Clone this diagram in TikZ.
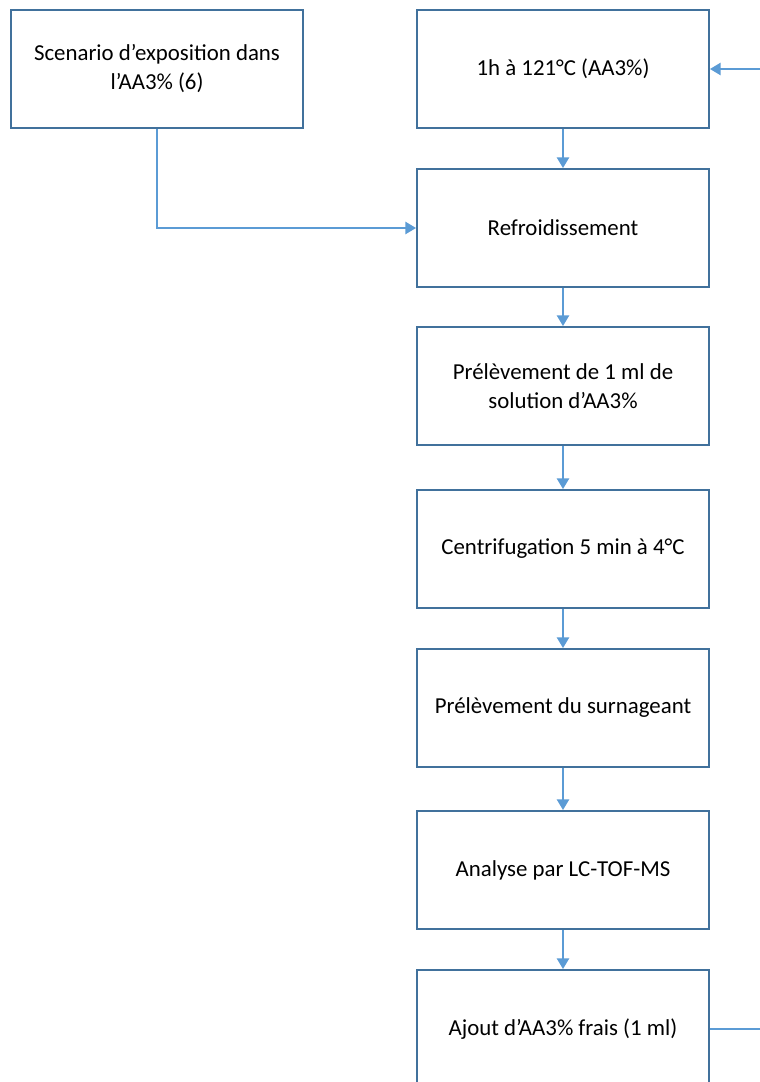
\documentclass[tikz,border=0pt]{standalone}
\usepackage{fontspec}
\setmainfont{Carlito}
\usepackage{xcolor}
\usetikzlibrary{arrows.meta}
\definecolor{boxline}{HTML}{41719C}
\definecolor{linkline}{HTML}{5B9BD5}
\tikzset{
  stepbox/.style={draw=boxline,line width=1.2pt,fill=white,minimum width=5.84cm,minimum height=2.36cm,align=center},
  link/.style={draw=linkline,line width=0.7pt}
}

\begin{document}
\begin{tikzpicture}[x=0.02cm,y=-0.02cm,>={Triangle[length=6pt,width=7pt]},font=\fontsize{13}{16.5}\selectfont]
\useasboundingbox (0,0) rectangle (760,1082);
\node[stepbox] (scen) at (157,69) {Scenario d'exposition dans\\l'AA3\% (6)};
\node[stepbox] (heat) at (563,69) {1h à 121°C (AA3\%)};
\node[stepbox] (cool) at (563,228) {Refroidissement};
\node[stepbox] (take) at (563,386) {Prélèvement de 1 ml de\\solution d'AA3\%};
\node[stepbox] (spin) at (563,549) {Centrifugation 5 min à 4°C};
\node[stepbox] (supn) at (563,708) {Prélèvement du surnageant};
\node[stepbox] (anal) at (563,870) {Analyse par LC-TOF-MS};
\node[stepbox] (fresh) at (563,1029) {Ajout d'AA3\% frais (1 ml)};
\coordinate (loopin) at (760,69);
\coordinate (loopout) at (760,1029);
\draw[link,->] (scen.south) |- (cool.west);
\foreach \a/\b in {heat/cool,cool/take,take/spin,spin/supn,supn/anal,anal/fresh}
  \draw[link,->] (\a.south) -- (\b.north);
\draw[link,->] (loopin) -- (heat.east);
\draw[link] (fresh.east) -- (loopout);
\end{tikzpicture}
\end{document}
